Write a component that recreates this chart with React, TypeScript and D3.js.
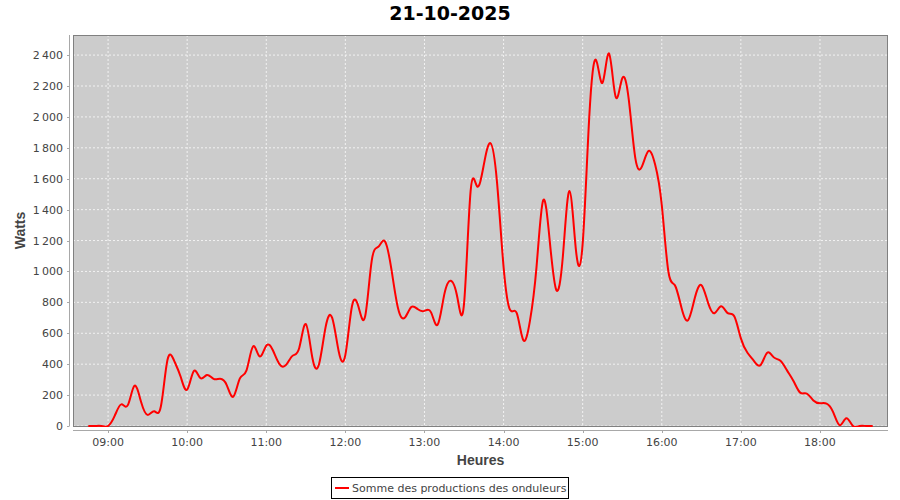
import React from "react";
import * as d3 from "d3";

const title = "21-10-2025";
const xLabel = "Heures";
const yLabel = "Watts";
const seriesName = "Somme des productions des onduleurs";

const times = [
  "08:45","08:50","08:55","09:00","09:05","09:10","09:15","09:20","09:25","09:30","09:35","09:40","09:45","09:50","09:55",
  "10:00","10:05","10:10","10:15","10:20","10:25","10:30","10:35","10:40","10:45","10:50","10:55",
  "11:00","11:05","11:10","11:15","11:20","11:25","11:30","11:35","11:40","11:45","11:50","11:55",
  "12:00","12:05","12:10","12:15","12:20","12:25","12:30","12:35","12:40","12:45","12:50","12:55",
  "13:00","13:05","13:10","13:15","13:20","13:25","13:30","13:35","13:40","13:45","13:50","13:55",
  "14:00","14:05","14:10","14:15","14:20","14:25","14:30","14:35","14:40","14:45","14:50","14:55",
  "15:00","15:05","15:10","15:15","15:20","15:25","15:30","15:35","15:40","15:45","15:50","15:55",
  "16:00","16:05","16:10","16:15","16:20","16:25","16:30","16:35","16:40","16:45","16:50","16:55",
  "17:00","17:05","17:10","17:15","17:20","17:25","17:30","17:35","17:40","17:45","17:50","17:55",
  "18:00","18:05","18:10","18:15","18:20","18:25","18:30","18:35","18:40"
];

const watts = [
  0, 0, 0, 0, 65, 140, 135, 260, 157, 72, 95, 125, 425, 425, 320,
  235, 355, 310, 330, 305, 305, 265, 190, 308, 360, 515, 450,
  520, 490, 400, 395, 455, 505, 660, 440, 400, 640, 700, 480,
  460, 775, 770, 710, 1070, 1160, 1195, 1010, 760, 700, 770, 755,
  745, 735, 655, 850, 940, 830, 790, 1520, 1550, 1690, 1830, 1580,
  1030, 750, 730, 555, 680, 1030, 1460, 1200, 880, 1100, 1520, 1130,
  1180, 2000, 2370, 2220, 2410, 2130, 2250, 2110, 1730, 1680, 1780, 1690,
  1430, 1000, 910, 763, 685, 826, 912, 800, 730, 775, 730, 710,
  567, 474, 420, 395, 474, 444, 422, 360, 290, 216, 210, 165,
  147, 145, 90, 5, 50, 0, 0, 0, 0
];

const yTicks = [0, 200, 400, 600, 800, 1000, 1200, 1400, 1600, 1800, 2000, 2200, 2400];
const yMax = 2530;

const W = 900, H = 500;
const plot = { left: 73, right: 888, top: 35, bottom: 426 };

export default function App() {
  const parse = d3.timeParse("%H:%M");
  const data = times.map((t, i) => ({ t: parse(t) as Date, v: watts[i] }));
  const t0 = data[0].t.getTime();
  const t1 = data[data.length - 1].t.getTime();
  const pad = (t1 - t0) * 0.0195;
  const x = d3.scaleTime().domain([new Date(t0 - pad), new Date(t1 + pad)]).range([plot.left, plot.right]);
  const y = d3.scaleLinear().domain([0, yMax]).range([plot.bottom, plot.top]);
  const line = d3.line<{ t: Date; v: number }>().x(d => x(d.t)).y(d => y(d.v)).curve(d3.curveNatural);
  const xTicks = x.ticks(d3.timeHour.every(1) as any);
  const fmtX = d3.timeFormat("%H:%M");
  const loc = d3.formatLocale({ decimal: ",", thousands: "\u202F", grouping: [3], currency: ["", ""] });
  const fmtY = loc.format(",d");
  const tickFont = "DejaVu Sans, sans-serif";
  const axisColor = "#a8a8a8";
  const textColor = "#444444";

  return (
    <svg width={W} height={H} style={{ position: "absolute", left: 0, top: 0, background: "#fff" }}>
      <defs>
        <clipPath id="plotclip">
          <rect x={plot.left} y={plot.top} width={plot.right - plot.left} height={plot.bottom - plot.top + 1} />
        </clipPath>
      </defs>
      <text x={450} y={20} textAnchor="middle" fontFamily="DejaVu Sans, sans-serif" fontWeight="bold" fontSize={19} fill="#000">{title}</text>
      <rect x={plot.left} y={plot.top} width={plot.right - plot.left} height={plot.bottom - plot.top} fill="#cccccc" />
      {xTicks.map((d, i) => (
        <line key={"gx" + i} x1={x(d)} x2={x(d)} y1={plot.top} y2={plot.bottom} stroke="#f2f2f2" strokeWidth={1} strokeDasharray="2,2" />
      ))}
      {yTicks.map((d, i) => (
        <line key={"gy" + i} x1={plot.left} x2={plot.right} y1={y(d)} y2={y(d)} stroke="#f2f2f2" strokeWidth={1} strokeDasharray="2,2" />
      ))}
      <rect x={plot.left + 0.5} y={plot.top + 0.5} width={plot.right - plot.left - 1} height={plot.bottom - plot.top} fill="none" stroke="#808080" strokeWidth={1} />
      <path d={line(data) || ""} fill="none" stroke="#ff0000" strokeWidth={2} clipPath="url(#plotclip)" strokeLinejoin="round" />
      {/* Y axis */}
      <line x1={69.5} x2={69.5} y1={plot.top} y2={plot.bottom} stroke={axisColor} strokeWidth={1} />
      {yTicks.map((d, i) => (
        <g key={"yt" + i}>
          <line x1={67} x2={69.5} y1={Math.round(y(d)) + 0.5} y2={Math.round(y(d)) + 0.5} stroke={axisColor} />
          <text x={63} y={y(d) + 4} textAnchor="end" fontFamily={tickFont} fontSize={11} fill={textColor}>{fmtY(d)}</text>
        </g>
      ))}
      {/* X axis */}
      <line x1={plot.left} x2={plot.right} y1={430.5} y2={430.5} stroke={axisColor} strokeWidth={1} />
      {xTicks.map((d, i) => (
        <g key={"xt" + i}>
          <line x1={Math.round(x(d)) + 0.5} x2={Math.round(x(d)) + 0.5} y1={430.5} y2={433} stroke={axisColor} />
          <text x={x(d)} y={446} textAnchor="middle" fontFamily={tickFont} fontSize={11} fill={textColor}>{fmtX(d)}</text>
        </g>
      ))}
      <text x={(plot.left + plot.right) / 2} y={465} textAnchor="middle" fontFamily="Liberation Sans, sans-serif" fontWeight="bold" fontSize={14} fill={textColor}>{xLabel}</text>
      <text transform={`translate(25,${(plot.top + plot.bottom) / 2}) rotate(-90)`} textAnchor="middle" fontFamily="Liberation Sans, sans-serif" fontWeight="bold" fontSize={14} fill={textColor}>{yLabel}</text>
      {/* Legend */}
      <rect x={331.5} y={477.5} width={237} height={21} fill="#fff" stroke="#000" strokeWidth={1} />
      <line x1={335} x2={349} y1={488} y2={488} stroke="#ff0000" strokeWidth={2} />
      <text x={352} y={492} fontFamily={tickFont} fontSize={11} fill={textColor}>{seriesName}</text>
    </svg>
  );
}
